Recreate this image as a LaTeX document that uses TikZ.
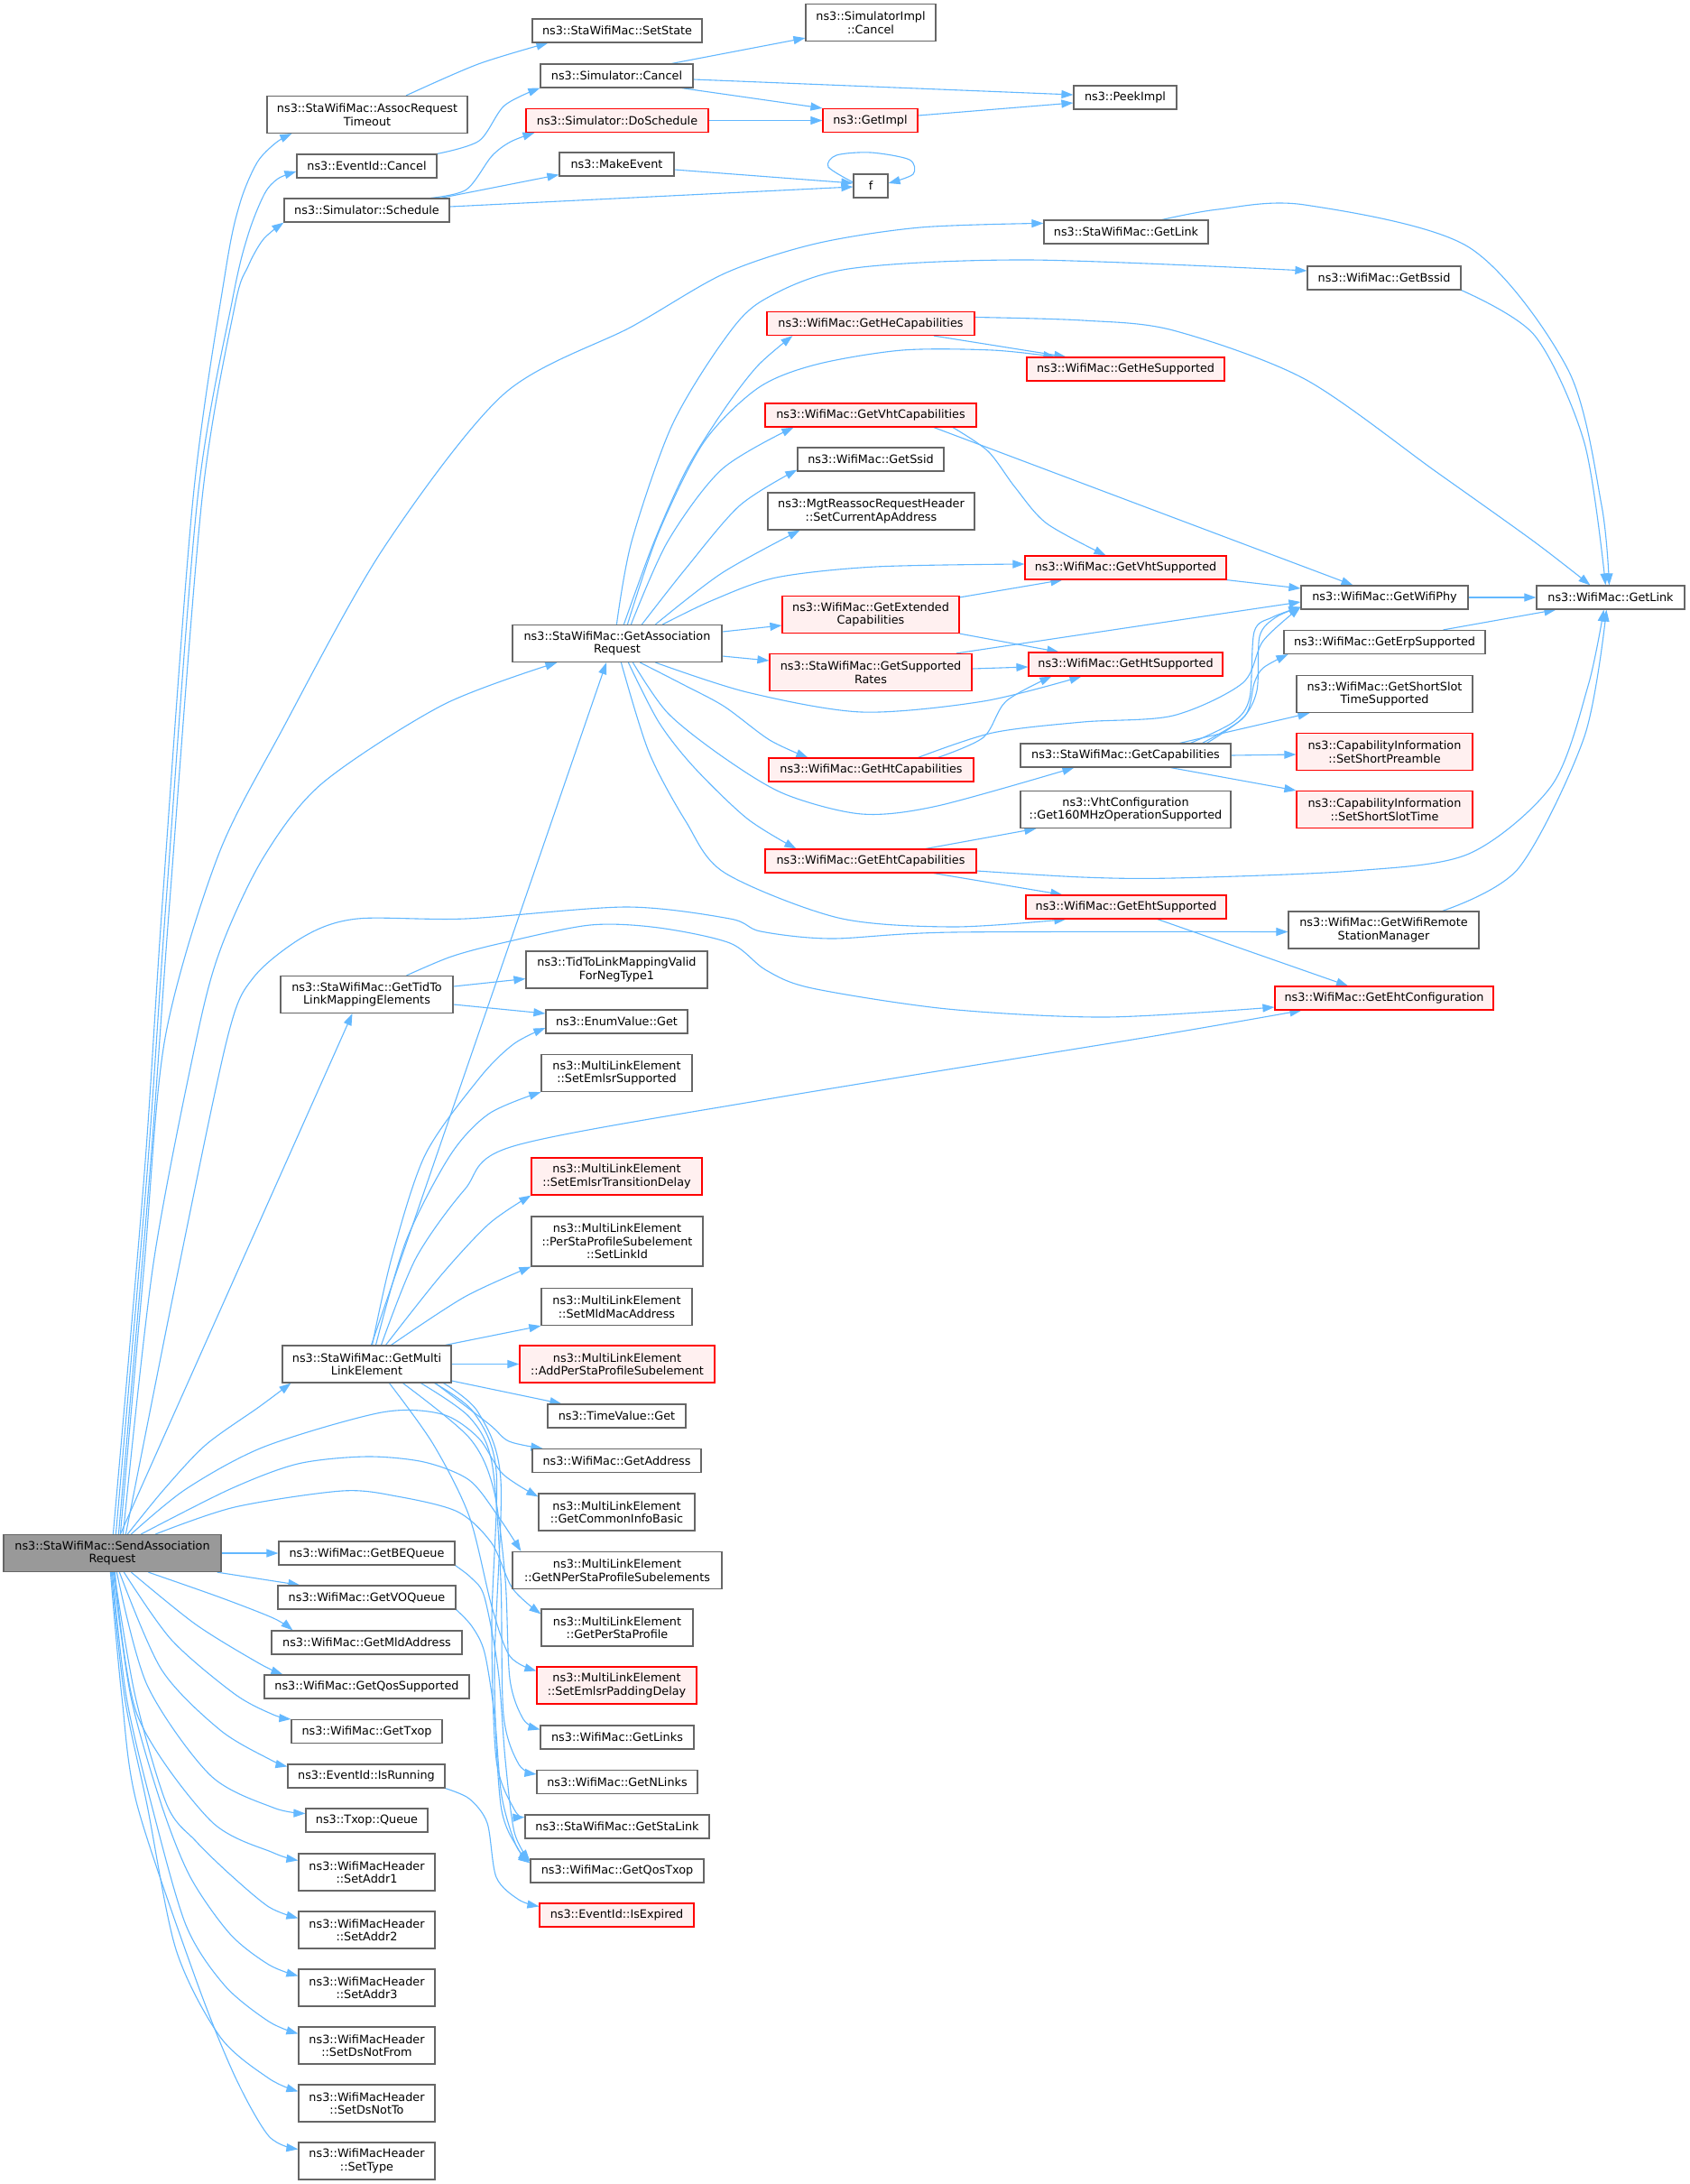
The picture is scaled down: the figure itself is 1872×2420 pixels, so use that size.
\documentclass[tikz,border=0pt]{standalone}
\usepackage{fontspec}
\setmainfont{DejaVu Sans}
\usetikzlibrary{arrows.meta,backgrounds}
\definecolor{edgec}{HTML}{63B8FF}
\definecolor{boxgray}{HTML}{666666}
\definecolor{redb}{HTML}{FF0000}
\definecolor{redfill}{HTML}{FFF0F0}
\definecolor{maingray}{HTML}{999999}
\newcommand\nfont{\fontsize{12.8}{14.5}\selectfont}
\newcommand\nd[7]{\node[#2, minimum width=#5pt, minimum height=#6pt] (#1) at (#3,#4) {#7};}
\tikzset{
  box/.style={draw=boxgray, fill=white, line width=1.2pt, inner sep=0pt, align=center, font=\nfont},
  redbox/.style={box, draw=redb, fill=redfill},
  mainbox/.style={box, fill=maingray},
  e/.style={draw=edgec, line width=1.1pt, -{Triangle[length=13pt,width=9pt]}},
}
\begin{document}
\begin{tikzpicture}[x=1pt,y=-1pt]
\useasboundingbox (0,0) rectangle (1872,2420);
% ---------------- nodes ----------------
\nd{art}{box}{407}{127}{222}{41}{ns3::StaWifiMac::AssocRequest\\Timeout}
\nd{setstate}{box}{684}{34}{188}{26}{ns3::StaWifiMac::SetState}
\nd{evcancel}{box}{406.5}{184}{155}{26}{ns3::EventId::Cancel}
\nd{schedule}{box}{406.5}{233}{183}{26}{ns3::Simulator::Schedule}
\nd{simcancel}{box}{683.5}{84}{169}{26}{ns3::Simulator::Cancel}
\nd{simimplcancel}{box}{965}{25}{144}{41}{ns3::SimulatorImpl\\::Cancel}
\nd{doschedule}{redbox}{684}{133.5}{202}{26}{ns3::Simulator::DoSchedule}
\nd{getimpl}{redbox}{964.5}{133.5}{105}{26}{ns3::GetImpl}
\nd{peekimpl}{box}{1247}{108}{114}{26}{ns3::PeekImpl}
\nd{makeevent}{box}{683.5}{182}{127}{26}{ns3::MakeEvent}
\nd{f}{box}{965}{206}{38}{26}{f}
\nd{stagetlink}{box}{1248}{257}{182}{26}{ns3::StaWifiMac::GetLink}
\nd{getbssid}{box}{1534}{308}{170}{26}{ns3::WifiMac::GetBssid}
\nd{hecap}{redbox}{965}{358.5}{230}{26}{ns3::WifiMac::GetHeCapabilities}
\nd{hesup}{redbox}{1247.5}{409}{219}{26}{ns3::WifiMac::GetHeSupported}
\nd{vhtcap}{redbox}{965}{460}{234}{26}{ns3::WifiMac::GetVhtCapabilities}
\nd{ssid}{box}{965}{509}{162}{26}{ns3::WifiMac::GetSsid}
\nd{setcurap}{box}{965.5}{566.5}{229}{41}{ns3::MgtReassocRequestHeader\\::SetCurrentApAddress}
\nd{vhtsup}{redbox}{1247.5}{629}{223}{26}{ns3::WifiMac::GetVhtSupported}
\nd{wifiphy}{box}{1534.5}{662}{185}{26}{ns3::WifiMac::GetWifiPhy}
\nd{maclink}{box}{1785}{662}{164}{26}{ns3::WifiMac::GetLink}
\nd{extcap}{redbox}{965}{681}{196}{41}{ns3::WifiMac::GetExtended\\Capabilities}
\nd{gar}{box}{684}{713}{232}{41}{ns3::StaWifiMac::GetAssociation\\Request}
\nd{erp}{box}{1534.5}{711.5}{223}{26}{ns3::WifiMac::GetErpSupported}
\nd{suprates}{redbox}{965}{745}{224}{41}{ns3::StaWifiMac::GetSupported\\Rates}
\nd{htsup}{redbox}{1247.5}{736}{215}{26}{ns3::WifiMac::GetHtSupported}
\nd{shortslot}{box}{1534.5}{769}{195}{41}{ns3::WifiMac::GetShortSlot\\TimeSupported}
\nd{getcap}{box}{1247.5}{837}{233}{26}{ns3::StaWifiMac::GetCapabilities}
\nd{setshortpre}{redbox}{1534.5}{833}{195}{41}{ns3::CapabilityInformation\\::SetShortPreamble}
\nd{hcap}{redbox}{965.5}{853}{227}{26}{ns3::WifiMac::GetHtCapabilities}
\nd{setshortslot}{redbox}{1534.5}{897}{195}{41}{ns3::CapabilityInformation\\::SetShortSlotTime}
\nd{vhtconf}{box}{1247.5}{897}{233}{41}{ns3::VhtConfiguration\\::Get160MHzOperationSupported}
\nd{ehtcap}{redbox}{965}{954}{234}{26}{ns3::WifiMac::GetEhtCapabilities}
\nd{ehtsup}{redbox}{1248}{1005}{222}{26}{ns3::WifiMac::GetEhtSupported}
\nd{remote}{box}{1533.5}{1030.5}{211}{41}{ns3::WifiMac::GetWifiRemote\\StationManager}
\nd{tidvalid}{box}{683.5}{1074.5}{201}{41}{ns3::TidToLinkMappingValid\\ForNegType1}
\nd{tidto}{box}{406.5}{1102}{191}{41}{ns3::StaWifiMac::GetTidTo\\LinkMappingElements}
\nd{ehtconf}{redbox}{1534}{1106}{242}{26}{ns3::WifiMac::GetEhtConfiguration}
\nd{enumget}{box}{683.5}{1132}{157}{26}{ns3::EnumValue::Get}
\nd{emlsrsup}{box}{683.5}{1189}{167}{41}{ns3::MultiLinkElement\\::SetEmlsrSupported}
\nd{emlsrtd}{redbox}{683.5}{1303.5}{189}{41}{ns3::MultiLinkElement\\::SetEmlsrTransitionDelay}
\nd{setlinkid}{box}{684}{1375.5}{190}{55}{ns3::MultiLinkElement\\::PerStaProfileSubelement\\::SetLinkId}
\nd{setmld}{box}{683.5}{1448}{167}{41}{ns3::MultiLinkElement\\::SetMldMacAddress}
\nd{addper}{redbox}{684}{1511.5}{216}{41}{ns3::MultiLinkElement\\::AddPerStaProfileSubelement}
\nd{gml}{box}{406.5}{1511.5}{187}{41}{ns3::StaWifiMac::GetMulti\\LinkElement}
\nd{timeval}{box}{683.5}{1569}{153}{26}{ns3::TimeValue::Get}
\nd{getaddr}{box}{683.5}{1618.5}{187}{26}{ns3::WifiMac::GetAddress}
\nd{commoninfo}{box}{683.5}{1675.5}{173}{41}{ns3::MultiLinkElement\\::GetCommonInfoBasic}
\nd{nper}{box}{684}{1740}{232}{41}{ns3::MultiLinkElement\\::GetNPerStaProfileSubelements}
\nd{perstaprof}{box}{684}{1803.5}{168}{41}{ns3::MultiLinkElement\\::GetPerStaProfile}
\nd{padding}{redbox}{683.5}{1867.5}{177}{41}{ns3::MultiLinkElement\\::SetEmlsrPaddingDelay}
\nd{getlinks}{box}{684}{1925}{170}{26}{ns3::WifiMac::GetLinks}
\nd{getnlinks}{box}{684}{1974.5}{178}{26}{ns3::WifiMac::GetNLinks}
\nd{stalink}{box}{684}{2024}{204}{26}{ns3::StaWifiMac::GetStaLink}
\nd{qostxop}{box}{684}{2073}{192}{26}{ns3::WifiMac::GetQosTxop}
\nd{isexpired}{redbox}{683.5}{2122}{171}{26}{ns3::EventId::IsExpired}
\nd{send}{mainbox}{124.5}{1721}{241}{41}{ns3::StaWifiMac::SendAssociation\\Request}
\nd{bequeue}{box}{406.5}{1721}{195}{26}{ns3::WifiMac::GetBEQueue}
\nd{voqueue}{box}{406.5}{1770}{197}{26}{ns3::WifiMac::GetVOQueue}
\nd{mldaddr}{box}{406.5}{1820}{211}{26}{ns3::WifiMac::GetMldAddress}
\nd{qossup}{box}{406.5}{1869}{227}{26}{ns3::WifiMac::GetQosSupported}
\nd{gettxop}{box}{406.5}{1918.5}{167}{26}{ns3::WifiMac::GetTxop}
\nd{isrunning}{box}{406}{1968}{174}{26}{ns3::EventId::IsRunning}
\nd{txopqueue}{box}{406.5}{2017}{135}{26}{ns3::Txop::Queue}
\nd{addr1}{box}{406.5}{2074.5}{151}{41}{ns3::WifiMacHeader\\::SetAddr1}
\nd{addr2}{box}{406.5}{2138.5}{151}{41}{ns3::WifiMacHeader\\::SetAddr2}
\nd{addr3}{box}{406.5}{2202.5}{151}{41}{ns3::WifiMacHeader\\::SetAddr3}
\nd{dsnotfrom}{box}{406.5}{2266.5}{151}{41}{ns3::WifiMacHeader\\::SetDsNotFrom}
\nd{dsnotto}{box}{406.5}{2330.5}{151}{41}{ns3::WifiMacHeader\\::SetDsNotTo}
\nd{settype}{box}{406.5}{2394.5}{151}{41}{ns3::WifiMacHeader\\::SetType}
% ---------------- edges ----------------
\begin{pgfonlayer}{background}
\fill[white] (0,0) rectangle (1872,2420);
% top group
\draw[e] plot[smooth] coordinates {([xshift=43pt]art.north) (530,71) ([xshift=18pt]setstate.south west)};
\draw[e] plot[smooth] coordinates {(evcancel.north east) (531,156) (559,117) (simcancel.south west)};
\draw[e] ([xshift=61pt]simcancel.north) -- ([yshift=4pt]simimplcancel.south west);
\draw[e] ([yshift=-4pt]simcancel.east) -- ([yshift=3pt]peekimpl.west);
\draw[e] ([xshift=-13pt]simcancel.south east) -- (getimpl.north west);
\draw[e] (doschedule.east) -- (getimpl.west);
\draw[e] ([yshift=5.5pt]getimpl.east) -- ([yshift=-6pt]peekimpl.west);
\draw[e] plot[smooth] coordinates {([xshift=71pt]schedule.north) (517,210) (545,173) (566,157) ([xshift=10pt]doschedule.south west)};
\draw[e] ([xshift=82pt]schedule.north) -- ([yshift=2pt]makeevent.south west);
\draw[e] ([yshift=4pt]schedule.east) -- ([yshift=-1pt]f.west);
\draw[e] ([yshift=-6pt]makeevent.east) -- ([yshift=3pt]f.west);
\draw[e] plot[smooth] coordinates {([yshift=4pt]f.west) (918,185) (927,172) (965,169) (1008,177) (1012,193) ([yshift=3pt]f.east)};
% from SendAssociationRequest upwards
\draw[e] plot[smooth] coordinates {([xshift=122pt]send.north west) (160,1300) (180,1000) (214,552) (250,300) (266,225) (285,180) (306,158) ([xshift=28pt]art.south west)};
\draw[e] plot[smooth] coordinates {([xshift=125pt]send.north west) (163,1300) (184,1000) (219,552) (258,330) (275,260) (293,215) (308,198) ([yshift=-6pt]evcancel.west)};
\draw[e] plot[smooth] coordinates {([xshift=128pt]send.north west) (166,1300) (188,1000) (224,552) (260,340) (275,295) (292,265) (schedule.south west)};
\draw[e] plot[smooth] coordinates {([xshift=130pt]send.north west) (160,1400) (183,1150) (241,950) (312,810) (424,609) (558,437) (700,362) (803,303) (904,270) (1020,252) ([yshift=-4pt]stagetlink.north west)};
\draw[e] plot[smooth] coordinates {([xshift=133pt]send.north west) (170,1400) (218,1150) (245,1050) (292,950) (357,868) (491,781) ([xshift=50pt]gar.south west)};
\draw[e] plot[smooth] coordinates {([xshift=136pt]send.north west) (195,1420) (252,1150) (281,1083) (338,1037) (396,1018) (516,1018) (694,1005) (809,1018) (843,1032) (921,1040) (1056,1033) ([yshift=-2pt]remote.west)};
\draw[e] ([xshift=130pt]send.north west) -- ([xshift=-16pt]tidto.south);
\draw[e] plot[smooth] coordinates {([xshift=138pt]send.north west) (182,1650) (228,1601) (287,1559) ([xshift=10pt]gml.south west)};
\draw[e] plot[smooth] coordinates {([xshift=142pt]send.north west) (206,1650) (293,1603) (423,1565) (490,1567) (530,1593) (557,1633) ([yshift=-4pt]commoninfo.north west)};
\draw[e] plot[smooth] coordinates {([xshift=153pt]send.north west) (255,1650) (330,1622) (406,1614) (470,1620) (520,1640) (552,1680) ([xshift=10pt]nper.north west)};
\draw[e] plot[smooth] coordinates {([xshift=169pt]send.north west) (260,1670) (379,1652) (440,1658) (507,1675) (545,1710) (568,1760) ([yshift=-6pt]perstaprof.north west)};
% from SendAssociationRequest downwards
\draw[e] (send.east) -- (bequeue.west);
\draw[e] ([xshift=-5pt]send.south east) -- ([xshift=25pt]voqueue.north west);
\draw[e] plot[smooth] coordinates {([xshift=161pt]send.south west) (244,1770) (303,1793) ([xshift=24pt]mldaddr.north west)};
\draw[e] plot[smooth] coordinates {([xshift=142pt]send.south west) (217,1800) (287,1843) ([xshift=21pt]qossup.north west)};
\draw[e] plot[smooth] coordinates {([xshift=134pt]send.south west) (190,1817) (260,1877) (303,1900) (gettxop.north west)};
\draw[e] plot[smooth] coordinates {([xshift=129pt]send.south west) (179,1850) (244,1917) (300,1950) ([yshift=-3pt]isrunning.north west)};
\draw[e] plot[smooth] coordinates {([xshift=126pt]send.south west) (163,1867) (233,1967) (303,2003) ([yshift=-6pt]txopqueue.north west)};
\draw[e] plot[smooth] coordinates {([xshift=124pt]send.south west) (152,1900) (233,2017) (303,2053) ([yshift=-8pt]addr1.north west)};
\draw[e] plot[smooth] coordinates {([xshift=123pt]send.south west) (150,1880) (185,2000) (217,2040) (255,2077) (298,2113) ([yshift=-8pt]addr2.north west)};
\draw[e] plot[smooth] coordinates {([xshift=122pt]send.south west) (145,1880) (179,2000) (211,2080) (255,2143) (298,2177) ([yshift=-8pt]addr3.north west)};
\draw[e] plot[smooth] coordinates {([xshift=121pt]send.south west) (140,1880) (168,2000) (206,2133) (249,2200) (298,2240) ([yshift=-8pt]dsnotfrom.north west)};
\draw[e] plot[smooth] coordinates {([xshift=120pt]send.south west) (138,1880) (163,2000) (195,2160) (244,2257) (298,2303) ([yshift=-8pt]dsnotto.north west)};
\draw[e] plot[smooth] coordinates {([xshift=119pt]send.south west) (135,1880) (152,2000) (217,2193) (260,2300) (298,2367) ([yshift=-8pt]settype.north west)};
% GetAssociationRequest
\draw[e] plot[smooth] coordinates {([xshift=116pt]gar.north west) (700,600) (744,473) (800,380) (845,333) (940,298) (1140,288) ([yshift=8pt]getbssid.west)};
\draw[e] plot[smooth] coordinates {([xshift=124pt]gar.north west) (725,600) (761,520) (803,453) (840,405) ([xshift=29pt]hecap.south west)};
\draw[e] plot[smooth] coordinates {([xshift=128pt]gar.north west) (730,590) (780,490) (840,430) (904,404) (1000,388) (1100,388) ([xshift=32pt]hesup.north west)};
\draw[e] plot[smooth] coordinates {([xshift=132pt]gar.north west) (740,600) (800,520) ([xshift=32pt]vhtcap.south west)};
\draw[e] plot[smooth] coordinates {([xshift=144pt]gar.north west) (760,630) (820,560) ([yshift=2pt]ssid.south west)};
\draw[e] plot[smooth] coordinates {([xshift=159pt]gar.north west) (800,635) ([xshift=36pt]setcurap.south west)};
\draw[e] plot[smooth] coordinates {([xshift=167pt]gar.north west) (790,665) (860,640) (970,628) ([yshift=4pt]vhtsup.west)};
\draw[e] ([yshift=13pt]gar.east) -- ([yshift=-12pt]extcap.west);
\draw[e] ([yshift=-14pt]gar.east) -- ([yshift=13pt]suprates.west);
\draw[e] plot[smooth] coordinates {([xshift=159pt]gar.south west) (828,767) (955,789) (1090,777) ([xshift=59pt]htsup.south west)};
\draw[e] plot[smooth] coordinates {([xshift=142pt]gar.south west) (760,760) (803,783) (853,820) ([xshift=44pt]hcap.north west)};
\draw[e] plot[smooth] coordinates {([xshift=134pt]gar.south west) (740,790) (803,840) (870,880) (955,902) (1039,893) ([xshift=60pt]getcap.south west)};
\draw[e] plot[smooth] coordinates {([xshift=129pt]gar.south west) (730,800) (769,850) (828,907) ([xshift=35pt]ehtcap.north west)};
\draw[e] plot[smooth] coordinates {([xshift=121pt]gar.south west) (719,833) (760,910) (803,967) (929,1017) (1056,1027) ([xshift=45pt]ehtsup.south west)};
% callees of GetAssociationRequest
\draw[e] ([xshift=70pt]hecap.south) -- ([xshift=44pt]hesup.north west);
\draw[e] plot[smooth] coordinates {([yshift=7pt]hecap.east) (1200,355) (1300,366) (1446,420) (1592,523) (1700,600) ([xshift=60pt]maclink.north west)};
\draw[e] plot[smooth] coordinates {([xshift=91pt]vhtcap.south) (1095,500) (1125,540) (1160,580) ([xshift=-22pt]vhtsup.north)};
\draw[e] ([xshift=70pt]vhtcap.south) -- ([xshift=-35pt]wifiphy.north);
\draw[e] (vhtsup.south east) -- ([yshift=10pt]wifiphy.west);
\draw[e] (wifiphy.east) -- (maclink.west);
\draw[e] ([yshift=-2pt]extcap.north east) -- ([xshift=42pt]vhtsup.south west);
\draw[e] (extcap.south east) -- ([xshift=34pt]htsup.north west);
\draw[e] ([yshift=4pt]suprates.east) -- ([yshift=-3pt]htsup.west);
\draw[e] plot[smooth] coordinates {([xshift=95pt]suprates.north) (1300,688) ([yshift=-5pt]wifiphy.west)};
\draw[e] plot[smooth] coordinates {([xshift=74pt]hcap.north) (1090,817) (1115,777) ([xshift=26pt]htsup.south west)};
\draw[e] plot[smooth] coordinates {([xshift=52pt]hcap.north) (1100,812) (1200,800) (1300,793) (1377,757) (1400,710) ([yshift=3pt]wifiphy.south west)};
\draw[e] plot[smooth] coordinates {([xshift=72pt]getcap.north) (1367,800) (1385,773) (1390,700) (1410,684) ([yshift=3pt]wifiphy.south west)};
\draw[e] plot[smooth] coordinates {([xshift=85pt]getcap.north) (1376,797) (1393,765) (1396,705) (1414,684) ([yshift=3pt]wifiphy.south west)};
\draw[e] plot[smooth] coordinates {([xshift=90pt]getcap.north) (1380,793) (1390,757) (1400,740) ([xshift=5pt]erp.south west)};
\draw[e] ([xshift=60pt]getcap.north) -- ([xshift=15pt]shortslot.south west);
\draw[e] (getcap.east) -- ([yshift=-3pt]setshortpre.west);
\draw[e] ([xshift=50pt]getcap.south) -- (setshortslot.north west);
\draw[e] ([xshift=61pt]ehtcap.north) -- ([xshift=18pt]vhtconf.south west);
\draw[e] ([xshift=70pt]ehtcap.south) -- ([xshift=41pt]ehtsup.north west);
\draw[e] plot[smooth] coordinates {([yshift=-11pt]ehtcap.east) (1200,972) (1300,973) (1500,965) (1628,946) (1720,870) (1760,760) ([xshift=75pt]maclink.south west)};
\draw[e] ([xshift=35pt]ehtsup.south) -- ([xshift=-40pt]ehtconf.north);
\draw[e] plot[smooth] coordinates {([xshift=65pt]remote.north) (1683,962) (1756,816) ([xshift=78pt]maclink.south west)};
\draw[e] plot[smooth] coordinates {([xshift=40pt]stagetlink.north) (1350,232) (1446,227) (1628,274) (1738,410) (1775,560) ([xshift=81pt]maclink.north west)};
\draw[e] plot[smooth] coordinates {(getbssid.south east) (1701,372) (1756,491) ([xshift=77pt]maclink.north west)};
\draw[e] ([xshift=65pt]erp.north) -- ([xshift=22pt]maclink.south west);
% GetTidToLinkMappingElements
\draw[e] ([yshift=9pt]tidto.east) -- ([yshift=-10pt]tidvalid.west);
\draw[e] ([yshift=-11pt]tidto.east) -- ([yshift=9pt]enumget.west);
\draw[e] plot[smooth] coordinates {([xshift=44pt]tidto.north) (500,1060) (556,1045) (654,1025) (730,1028) (809,1045) (849,1075) (900,1095) (1050,1118) (1225,1127) ([yshift=-10pt]ehtconf.west)};
% GetMultiLinkElement
\draw[e] ([xshift=5pt]gml.north) -- ([xshift=-12pt]gar.south);
\draw[e] plot[smooth] coordinates {([xshift=6pt]gml.north) (434,1394) (471,1280) (531,1195) (569,1157) ([yshift=-7pt]enumget.west)};
\draw[e] plot[smooth] coordinates {([xshift=10pt]gml.north) (450,1375) (499,1280) (542,1234) (emlsrsup.south west)};
\draw[e] plot[smooth] coordinates {([xshift=16pt]gml.north) (461,1394) (515,1318) (569,1270) (850,1218) (1267,1150) ([xshift=30pt]ehtconf.south west)};
\draw[e] plot[smooth] coordinates {([xshift=21pt]gml.north) (488,1414) (542,1356) (emlsrtd.south west)};
\draw[e] plot[smooth] coordinates {([xshift=27pt]gml.north) (515,1437) (setlinkid.south west)};
\draw[e] ([xshift=87pt]gml.north) -- (setmld.south west);
\draw[e] (gml.east) -- (addper.west);
\draw[e] ([yshift=-18.5pt]gml.east) -- ([xshift=16pt]timeval.north west);
\draw[e] plot[smooth] coordinates {([xshift=76pt]gml.south) (542,1578) (564,1597) ([xshift=12pt]getaddr.north west)};
\draw[e] plot[smooth] coordinates {([xshift=25pt]gml.south) (480,1600) (520,1680) (545,1780) (565,1835) ([yshift=-5pt]padding.north west)};
\draw[e] plot[smooth] coordinates {([xshift=40pt]gml.south) (520,1593) (547,1650) (560,1750) (565,1860) (580,1905) ([yshift=-5pt]getlinks.north west)};
\draw[e] plot[smooth] coordinates {([xshift=60pt]gml.south) (520,1570) (545,1620) (555,1750) (558,1900) (575,1955) ([yshift=-5pt]getnlinks.north west)};
\draw[e] plot[smooth] coordinates {([xshift=75pt]gml.south) (525,1565) (550,1630) (545,1800) (550,1950) (570,2005) ([yshift=-3pt]stalink.north west)};
\draw[e] plot[smooth] coordinates {([xshift=85pt]gml.south) (530,1565) (555,1640) (548,1850) (555,2000) (575,2050) ([yshift=-5pt]qostxop.north west)};
% queues and events
\draw[e] plot[smooth] coordinates {(bequeue.south east) (523,1749) (537,1770) (552,1850) (560,1950) (570,2030) ([yshift=-3pt]qostxop.north west)};
\draw[e] plot[smooth] coordinates {(voqueue.south east) (523,1802) (537,1831) (548,1900) (556,1990) (572,2045) ([yshift=-3pt]qostxop.north west)};
\draw[e] plot[smooth] coordinates {(isrunning.south east) (520,1993) (540,2020) (550,2080) (575,2105) ([yshift=-4pt]isexpired.north west)};
\end{pgfonlayer}
\end{tikzpicture}
\end{document}
